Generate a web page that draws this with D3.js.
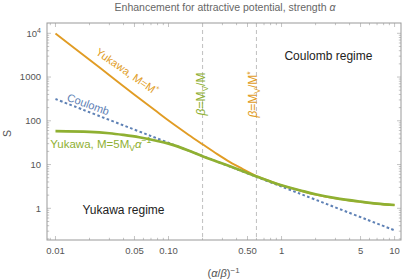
<!DOCTYPE html>
<html>
<head>
<meta charset="utf-8">
<script src="https://cdn.jsdelivr.net/npm/d3@7"></script>
<style>
  body { margin: 0; background: #fff; }
  text { font-family: "Liberation Sans", Arial, sans-serif; }
</style>
</head>
<body>
<script>
// values: [x = (alpha/beta)^-1, S]
const coulomb = [[0.01, 314], [0.1, 31.4], [1, 3.14], [10, 0.314]];
const yukawaStar = [
  [0.01, 9900], [0.02, 2480], [0.03, 1100], [0.05, 396], [0.075, 178],
  [0.1, 101], [0.15, 48], [0.2, 29], [0.27, 17.3], [0.35, 11.4], [0.45, 8],
  [0.6, 5.45], [0.8, 4.1], [1, 3.33], [1.5, 2.48], [2, 2.06], [3, 1.69],
  [5, 1.4], [7, 1.27], [10, 1.18]
];
const yukawa5 = [
  [0.01, 58], [0.02, 56], [0.03, 52], [0.04, 47.5], [0.055, 42], [0.078, 35],
  [0.1, 30], [0.15, 21], [0.2, 15.5], [0.3, 10.6], [0.45, 7.1], [0.6, 5.35],
  [0.8, 4.07], [1, 3.36], [1.5, 2.52], [2, 2.09], [3, 1.71], [5, 1.42],
  [7, 1.28], [10, 1.19]
];
const betaLines = [0.2, 0.6];
const xTickVals = [0.01, 0.05, 0.1, 0.5, 1, 5, 10];
const xTickLabels = ["0.01", "0.05", "0.10", "0.50", "1", "5", "10"];
const yTickVals = [1, 10, 100, 1000, 10000];
const yTickLabels = ["1", "10", "100", "1000", "10^4"];

const W = 405, H = 280;
const M = { left: 47, right: 401, top: 23, bottom: 240 };
const C = { blue: "#5E81B5", orange: "#E19C24", green: "#8FB032" };

const x = d3.scaleLog().domain([0.008414, 11.40]).range([M.left, M.right]);
const y = d3.scaleLog().domain([0.1886, 17180]).range([M.bottom, M.top]);

const svg = d3.select("body").append("svg")
  .attr("width", W).attr("height", H);

// minor tick values
const minorX = [], minorY = [];
for (let e = -3; e <= 1; e++)
  for (let k = 1; k <= 9; k++) {
    const v = k * Math.pow(10, e);
    if (v >= x.domain()[0] && v <= x.domain()[1]) minorX.push(v);
  }
for (let e = -1; e <= 4; e++)
  for (let k = 1; k <= 9; k++) {
    const v = k * Math.pow(10, e);
    if (v >= y.domain()[0] && v <= y.domain()[1]) minorY.push(v);
  }

const ticks = svg.append("g").attr("stroke", "#aaa").attr("stroke-width", 0.7);
// bottom / top
ticks.selectAll(".xb").data(minorX).join("line")
  .attr("x1", d => x(d)).attr("x2", d => x(d))
  .attr("y1", M.bottom).attr("y2", d => M.bottom - (xTickVals.includes(d) ? 4 : 2.2));
ticks.selectAll(".xt").data(minorX).join("line")
  .attr("x1", d => x(d)).attr("x2", d => x(d))
  .attr("y1", M.top).attr("y2", d => M.top + (xTickVals.includes(d) ? 4 : 2.2));
// left / right
ticks.selectAll(".yl").data(minorY).join("line")
  .attr("y1", d => y(d)).attr("y2", d => y(d))
  .attr("x1", M.left).attr("x2", d => M.left + (yTickVals.includes(d) ? 4 : 2.2));
ticks.selectAll(".yr").data(minorY).join("line")
  .attr("y1", d => y(d)).attr("y2", d => y(d))
  .attr("x1", M.right).attr("x2", d => M.right - (yTickVals.includes(d) ? 4 : 2.2));

// dashed vertical lines
svg.append("g").selectAll("line").data(betaLines).join("line")
  .attr("x1", d => x(d)).attr("x2", d => x(d))
  .attr("y1", M.top).attr("y2", M.bottom)
  .attr("stroke", "#c4c4c4").attr("stroke-width", 1.1)
  .attr("stroke-dasharray", "4,3");

// curves
const line = d3.line().x(d => x(d[0])).y(d => y(d[1])).curve(d3.curveCatmullRom.alpha(0.5));
svg.append("path").datum(yukawaStar).attr("d", line)
  .attr("fill", "none").attr("stroke", C.orange).attr("stroke-width", 1.9);
svg.append("path").datum(coulomb).attr("d", line)
  .attr("fill", "none").attr("stroke", C.blue).attr("stroke-width", 2)
  .attr("stroke-dasharray", "2.6,2.4");
svg.append("path").datum(yukawa5).attr("d", line)
  .attr("fill", "none").attr("stroke", C.green).attr("stroke-width", 2.7);

// frame
svg.append("rect")
  .attr("x", M.left).attr("y", M.top)
  .attr("width", M.right - M.left).attr("height", M.bottom - M.top)
  .attr("fill", "none").attr("stroke", "#999").attr("stroke-width", 1);

// tick labels
svg.append("g").selectAll("text").data(xTickVals).join("text")
  .attr("x", d => x(d)).attr("y", M.bottom + 14)
  .attr("text-anchor", "middle").attr("font-size", 9.5).attr("fill", "#555")
  .text((d, i) => xTickLabels[i]);

const yl = svg.append("g").selectAll("text").data(yTickVals).join("text")
  .attr("x", M.left - 6).attr("y", d => y(d) + 3.3)
  .attr("text-anchor", "end").attr("font-size", 9.5).attr("fill", "#555");
yl.each(function (d, i) {
  const t = d3.select(this), lab = yTickLabels[i];
  if (lab.includes("^")) {
    const [b, p] = lab.split("^");
    t.append("tspan").text(b);
    t.append("tspan").attr("dy", -4).attr("font-size", 7).text(p);
  } else t.text(lab);
});

// title and axis labels
svg.append("text").attr("x", (M.left + M.right) / 2 + 1).attr("y", 10.5)
  .attr("text-anchor", "middle").attr("font-size", 10.5).attr("fill", "#666")
  .html('Enhancement for attractive potential, strength <tspan font-style="italic">α</tspan>');

svg.append("text").attr("transform", `translate(11,${(M.top + M.bottom) / 2 + 2}) rotate(-90)`)
  .attr("text-anchor", "middle").attr("font-size", 10.5).attr("fill", "#555").text("S");

svg.append("text").attr("x", x(0.2) + 21).attr("y", 277)
  .attr("text-anchor", "middle").attr("font-size", 11).attr("fill", "#555")
  .html('(<tspan font-style="italic">α</tspan>/<tspan font-style="italic">β</tspan>)<tspan dy="-4" font-size="8">−1</tspan>');

// regime labels
svg.append("text").attr("x", x(2.6)).attr("y", y(2500))
  .attr("text-anchor", "middle").attr("font-size", 12).attr("fill", "#222")
  .text("Coulomb regime");
svg.append("text").attr("x", x(0.04)).attr("y", y(0.76))
  .attr("text-anchor", "middle").attr("font-size", 12).attr("fill", "#222")
  .text("Yukawa regime");

// curve labels
svg.append("text")
  .attr("transform", `translate(${x(0.043)},${y(1350)}) rotate(35)`)
  .attr("text-anchor", "middle").attr("dy", 4).attr("font-size", 11).attr("fill", C.orange)
  .html('Yukawa, M=M<tspan dy="-4" font-size="8">*</tspan>');
svg.append("text")
  .attr("transform", `translate(${x(0.0195)},${y(240)}) rotate(20)`)
  .attr("text-anchor", "middle").attr("dy", 4).attr("font-size", 11).attr("fill", C.blue)
  .text("Coulomb");
svg.append("text").attr("x", x(0.009)).attr("y", y(24.5))
  .attr("font-size", 11.5).attr("fill", C.green)
  .html('Yukawa, M=5M<tspan dy="3" font-size="8.5">V</tspan><tspan dy="-3" font-style="italic">α</tspan><tspan dy="-4.5" font-size="8.5">−1</tspan>');

svg.append("text")
  .attr("transform", `translate(${x(0.2) + 2},${y(410)}) rotate(-90)`)
  .attr("text-anchor", "middle").attr("font-size", 12).attr("fill", C.green)
  .html('<tspan font-style="italic">β</tspan>=M<tspan dy="3" font-size="8.5">V</tspan><tspan dy="-3">/M</tspan>');
svg.append("text")
  .attr("transform", `translate(${x(0.6) + 1},${y(400)}) rotate(-90)`)
  .attr("text-anchor", "middle").attr("font-size", 12).attr("fill", C.orange)
  .html('<tspan font-style="italic">β</tspan>=M<tspan dy="3" font-size="8.5">V</tspan><tspan dy="-3">/M</tspan><tspan dy="-4.5" font-size="8.5">*</tspan>');
</script>
</body>
</html>
